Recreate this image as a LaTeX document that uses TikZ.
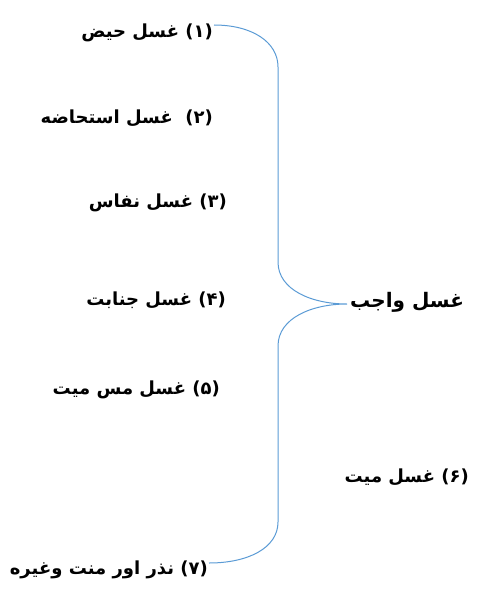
\documentclass[tikz,border=0pt]{standalone}
\usepackage{fontspec}
\newfontfamily\urdufont[Script=Arabic]{DejaVu Sans}
\TeXXeTstate=1
\usepackage{xcolor}
\definecolor{braceblue}{RGB}{91,155,213}

\begin{document}
\begin{tikzpicture}[
    x=1pt,y=-1pt,
    font=\urdufont\bfseries\fontsize{18}{20}\selectfont,
    item/.style={anchor=east,inner sep=1pt},
    brace/.style={draw=braceblue,line width=1pt}
]
\useasboundingbox (0,0) rectangle (478,594);

% The seven kinds of ghusl, right aligned against the brace.
\node[item] (i1) at (214,33) {\beginR (۱) غسل حیض\endR};
\node[item] (i2) at (214,118) {\beginR (۲)\ \ غسل استحاضه\endR};
\node[item] (i3) at (228,203) {\beginR (۳) غسل نفاس\endR};
\node[item] (i4) at (227,300) {\beginR (۴) غسل جنابت\endR};
\node[item] (i5) at (221,390) {\beginR (۵) غسل مس میت\endR};
\node[item] (i6) at (470,477) {\beginR (۶) غسل میت\endR};
\node[item] (i7) at (209,570) {\beginR (۷) نذر اور منت وغیره\endR};

% Heading at the tip of the brace.
\node[anchor=west,inner sep=1pt,font=\urdufont\bfseries\fontsize{20}{22}\selectfont]
    (wajib) at (349,302) {\beginR غسل واجب\endR};

% The curly brace runs from the first item to the last one.
\coordinate (tip) at (347,304);
\draw[brace] (i1.east |- 0,25) .. controls (252,25) and (278,42) .. (278,67)
    -- (278,262) .. controls (278,290) and (312,304) .. (tip)
    .. controls (312,304) and (278,318) .. (278,346)
    -- (278,522) .. controls (278,548) and (248,563) .. (i7.east |- 0,563);
\end{tikzpicture}
\end{document}
